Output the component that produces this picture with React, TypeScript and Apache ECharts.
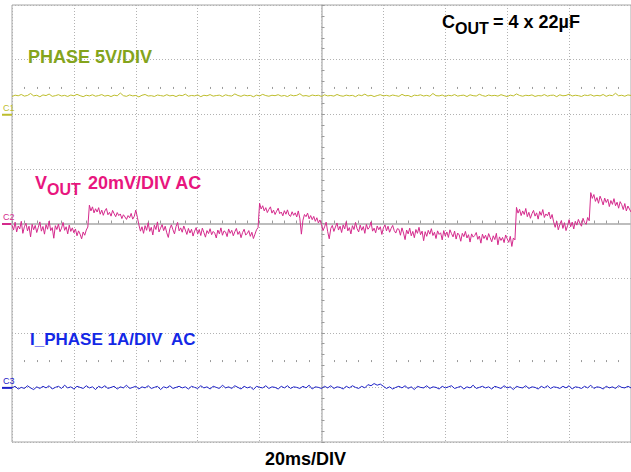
import { useEffect, useRef } from "react";
import * as echarts from "echarts";

// Horizontal: 20 ms/div, 10 divisions, centred on 0 ms
const TIME_START_MS = -100;
const TIME_END_MS = 100;
const TIME_DIV_MS = 20;
const STEP_MS_SLOW = 1; // CH1 / CH3 record spacing
const STEP_MS_VOUT = 0.5; // CH2 record spacing

// Vertical: 8 divisions
const DIV_MIN = -4;
const DIV_MAX = 4;

// Channel settings: scale per division and ground position (in divisions)
const CH1_SCALE_V = 5;
const CH1_GROUND_DIV = 2;
const CH2_SCALE_MV = 20;
const CH2_GROUND_DIV = 0;
const CH3_SCALE_A = 1;
const CH3_GROUND_DIV = -3;

const CH_LABELS = ["C1", "C2", "C3"];

// CH1: PHASE node (V), one sample per ms
const PHASE_V: number[] = [
  1.62, 1.75, 1.69, 1.81, 1.66, 1.72, 1.90, 1.68, 1.74, 1.60,
  1.77, 1.71, 1.85, 1.64, 1.70, 1.79, 1.67, 1.73, 1.63, 1.76,
  1.69, 1.82, 1.70, 1.61, 1.74, 1.68, 1.78, 1.65, 1.71, 1.80,
  1.66, 1.73, 1.62, 1.75, 1.69, 1.94, 1.70, 1.64, 1.77, 1.68,
  1.72, 1.59, 1.74, 1.81, 1.67, 1.70, 1.63, 1.76, 1.71, 1.66,
  1.79, 1.68, 1.73, 1.62, 1.75, 1.70, 1.84, 1.65, 1.72, 1.68,
  1.77, 1.61, 1.74, 1.69, 1.80, 1.66, 1.71, 1.75, 1.63, 1.78,
  1.70, 1.67, 1.86, 1.72, 1.64, 1.76, 1.69, 1.73, 1.60, 1.75,
  1.68, 1.82, 1.71, 1.65, 1.74, 1.70, 1.79, 1.66, 1.72, 1.62,
  1.77, 1.69, 1.73, 1.88, 1.67, 1.71, 1.64, 1.76, 1.70, 1.74,
  1.63, 1.78, 1.68, 1.72, 1.66, 1.81, 1.70, 1.65, 1.75, 1.69,
  1.73, 1.61, 1.77, 1.70, 1.84, 1.67, 1.74, 1.62, 1.71, 1.79,
  1.68, 1.73, 1.66, 1.76, 1.70, 1.64, 1.82, 1.69, 1.72, 1.60,
  1.75, 1.71, 1.78, 1.67, 1.73, 1.65, 1.90, 1.70, 1.68, 1.76,
  1.63, 1.74, 1.69, 1.80, 1.66, 1.72, 1.75, 1.62, 1.78, 1.70,
  1.67, 1.83, 1.71, 1.64, 1.76, 1.69, 1.73, 1.66, 1.79, 1.70,
  1.62, 1.75, 1.68, 1.86, 1.72, 1.65, 1.74, 1.70, 1.77, 1.63,
  1.71, 1.68, 1.80, 1.66, 1.73, 1.75, 1.61, 1.78, 1.69, 1.72,
  1.84, 1.67, 1.74, 1.70, 1.63, 1.76, 1.71, 1.79, 1.66, 1.73,
  1.68, 1.81, 1.64, 1.75, 1.70, 1.92, 1.69, 1.74, 1.65, 1.77,
  1.72,
];

// CH2: VOUT ripple, AC coupled (mV), one sample per 0.5 ms
const VOUT_MV: number[] = [
  -0.6, -2.4, 0.5, -3.1, -0.9, -2.0, 0.8, -3.6, -1.2, 0.1,
  -2.7, -1.0, -4.9, -0.3, -2.3, -0.7, -3.3, -1.4, 0.6, -2.8,
  -1.1, -3.9, -0.4, -2.1, 0.9, -2.6, -1.5, -5.4, -0.8, -2.2,
  -0.2, -3.0, -1.7, 0.4, -2.5, -1.2, -3.8, -0.6, -2.9, -1.6,
  -3.4, -2.0, -4.5, -2.7, -3.9, -5.6, -3.1, -4.3, -2.4, -1.3,
  6.7, 4.6, 6.1, 3.9, 5.4, 4.2, 5.8, 3.4, 4.9, 3.0,
  4.6, 5.5, 3.2, 4.1, 2.7, 4.8, 3.6, 2.5, 4.0, 2.9,
  3.5, 1.8, 3.2, 2.4, 1.5, 2.9, 2.1, 3.7, 1.6, 2.6,
  4.9, 2.3, -0.5, -2.8,
  -1.2, -3.6, -0.8, -2.5, 0.3, -2.9, -1.4, -4.2, -0.6, -2.2,
  0.6, -3.1, -1.7, -0.4, -2.6, -1.0, -3.4, -5.1, -1.9, -0.5,
  -2.3, -3.8, -1.1, 0.4, -2.7, -1.6, -3.2, -0.9, -2.4, -4.0,
  -1.8, -3.5, -2.1, -4.6, -2.8, -1.5, -3.9, -2.2, -4.4, -1.7,
  -3.3, -5.0, -2.6, -3.7, -1.9, -4.1, -2.9, -3.5, -5.3, -2.4,
  -3.8, -1.6, -4.3, -2.7, -3.1, -4.8, -2.0, -3.6, -2.5, -4.5,
  -3.0, -1.8, -4.0, -2.9, -5.2, -3.3, -2.1, -4.2, -3.7, -2.6,
  -4.7, -3.2, -5.5, -3.9, -2.3, -1.5,
  7.4, 5.3, 6.5, 4.6, 5.8, 4.0, 5.2, 6.1, 3.8, 4.9,
  3.3, 4.5, 5.6, 3.6, 4.2, 2.8, 4.7, 3.4, 5.0, 3.1,
  2.6, 4.3, 3.0, 3.9, 2.4, 4.6, 1.9, -3.9, 1.2, 3.3,
  2.5, 3.8, 1.7, 2.9, 1.4, 2.6, 0.8, 2.1, 0.2, 1.3,
  -0.4, -2.6, -1.2, 0.5, -3.0, -5.6, -1.8, -0.7, -2.9, -1.3,
  0.2, -2.4, -1.0, -3.3, -0.5, -2.0, 0.7, -2.7, -1.5, -3.8,
  -0.8, -2.2, 0.4, -1.9, -3.1, -0.6, -2.5, -1.1, -3.6, -0.3,
  -2.1, -1.4, 0.6, -2.8, -1.7, -3.4, -0.9, -2.3, -1.2, -4.0,
  -1.6, -0.5, -2.7, -1.0, -3.2, -1.8, -0.7, -2.6, -3.5, -1.9,
  -2.1, -4.3, -1.6, -3.5, -5.9, -2.4, -3.8, -1.7, -4.5, -2.9,
  -5.2, -2.2, -3.6, -1.4, -4.1, -2.8, -6.3, -3.0, -4.7, -2.5,
  -3.9, -1.9, -4.4, -3.2, -5.5, -2.7, -4.0, -3.4, -6.0, -2.6,
  -4.6, -3.1, -5.1, -2.3, -3.7, -4.9, -2.8, -5.7, -3.5, -4.2,
  -6.5, -3.6, -4.8, -2.9, -5.3, -4.1, -6.8, -3.8, -5.0, -4.4,
  -3.3, -5.8, -4.6, -7.2, -3.9, -5.5, -4.3, -6.1, -3.7, -5.2,
  -6.7, -4.5, -5.9, -3.6, -7.8, -4.9, -6.2, -5.1, -7.0, -4.2,
  -5.6, -6.9, -4.7, -8.4, -5.3, -6.0,
  5.9, 3.8, 5.2, 2.9, 4.6, 3.3, 5.5, 2.5, 4.1, 1.9,
  3.6, 4.8, 2.7, 3.9, 1.6, 4.4, 3.0, 5.1, 2.2, 3.5,
  2.8, 4.2, 1.7, 3.3, 0.6, -1.4, 0.9, -2.3, -0.4, 1.1,
  -1.8, 0.3, -2.6, -0.8, 1.4, -1.2, 0.5, -2.0,
  0.8, -0.6, 1.5, 0.1, -1.0, 1.9, 0.4, -0.3, 2.2, 1.0,
  11.3, 9.2, 10.6, 8.1, 9.5, 7.4, 10.0, 8.6, 6.8, 9.3,
  7.7, 8.9, 6.2, 8.4, 7.0, 9.1, 6.5, 7.8, 5.6, 8.0,
  6.9, 5.1, 7.3, 4.6, 6.4, 5.3, 4.2,
];

// CH3: phase current, AC coupled (A), one sample per ms
const IPHASE_A: number[] = [
  -0.01, 0.02, -0.03, 0.00, -0.02, 0.03, -0.01, -0.04, 0.01, -0.02,
  0.02, -0.01, 0.03, -0.03, 0.00, 0.02, -0.02, 0.04, -0.01, 0.01,
  -0.03, 0.02, 0.00, -0.02, 0.03, -0.01, 0.01, -0.04, 0.02, -0.01,
  0.03, -0.02, 0.00, 0.02, -0.03, 0.01, -0.01, 0.04, -0.02, 0.00,
  0.02, -0.03, 0.01, -0.01, 0.03, -0.02, 0.00, 0.02, -0.04, 0.01,
  -0.01, 0.03, -0.02, 0.00, 0.02, -0.01, 0.01, -0.03, 0.02, 0.00,
  -0.02, 0.03, -0.01, 0.01, -0.03, 0.02, 0.00, -0.02, 0.04, -0.01,
  0.01, -0.02, 0.03, 0.00, -0.03, 0.02, -0.01, 0.01, -0.04, 0.02,
  0.00, -0.01, 0.03, -0.02, 0.01, 0.00, -0.03, 0.02, -0.01, 0.03,
  -0.02, 0.01, 0.00, -0.02, 0.02, -0.01, 0.04, -0.03, 0.01, 0.00,
  -0.02, 0.02, -0.01, 0.03, -0.02, 0.01, 0.00, -0.03, 0.02, -0.01,
  0.03, 0.00, -0.02, 0.02, -0.01, 0.05, 0.03, 0.07, 0.04, 0.06,
  0.02, -0.02, 0.01, -0.03, 0.00, 0.02, -0.01, 0.03, -0.02, 0.01,
  -0.04, 0.02, 0.00, -0.01, 0.03, -0.02, 0.01, 0.00, -0.03, 0.02,
  -0.01, 0.01, 0.03, -0.02, 0.00, 0.02, -0.03, 0.01, -0.01, 0.04,
  -0.02, 0.00, 0.02, -0.01, 0.01, -0.03, 0.02, 0.00, -0.02, 0.03,
  -0.01, 0.01, -0.04, 0.02, 0.00, -0.01, 0.03, -0.02, 0.01, 0.00,
  -0.03, 0.02, -0.01, 0.03, -0.02, 0.01, 0.00, -0.02, 0.02, -0.01,
  0.03, -0.03, 0.01, 0.00, -0.02, 0.02, -0.01, 0.04, -0.02, 0.01,
  0.00, -0.03, 0.02, -0.01, 0.01, -0.02, 0.03, 0.00, -0.01, 0.02,
  -0.01,
];

const COL_CH1 = "#bdbd2c";
const COL_CH1_TEXT = "#84a41c";
const COL_CH2 = "#d42a8c";
const COL_CH2_TEXT = "#e8167e";
const COL_CH3 = "#1e22c8";
const COL_CH3_TEXT = "#1428e6";
const FONT = "'Liberation Sans', Arial, Helvetica, sans-serif";

function toTrace(vals: number[], stepMs: number, scale: number, groundDiv: number): number[][] {
  return vals.map((v, i) => [TIME_START_MS + i * stepMs, groundDiv + v / scale]);
}

function txt(text: string, x: number, y: number, size: number, color: string) {
  return {
    type: "text",
    x,
    y,
    silent: true,
    style: {
      text,
      fill: color,
      font: `bold ${size}px ${FONT}`,
      textAlign: "left",
      textVerticalAlign: "middle",
    },
  };
}

export default function App() {
  const ref = useRef<HTMLDivElement>(null);

  useEffect(() => {
    if (!ref.current) return;
    const chart = echarts.init(ref.current, null, { renderer: "svg" });

    const dotted = { show: true, lineStyle: { color: "#b2b2b2", type: [1, 2], width: 1 } };
    const tickStyle = { color: "#9a9a9a", width: 1 };

    const markerAxis = (idx: number) => ({
      type: "value",
      min: TIME_START_MS,
      max: TIME_END_MS,
      interval: TIME_DIV_MS,
      axisLabel: { show: false },
      splitLine: { show: false },
      axisLine: { show: true, onZero: true, onZeroAxisIndex: idx, lineStyle: { opacity: 0 } },
      axisTick: { show: false, inside: true },
      minorTick: { show: true, splitNumber: 5, length: 2, lineStyle: tickStyle },
    });

    chart.setOption({
      animation: false,
      backgroundColor: "#ffffff",
      grid: {
        left: 12,
        right: -1,
        top: 5,
        bottom: 30,
        show: true,
        borderColor: "#a6a6a6",
        borderWidth: 1,
        backgroundColor: "transparent",
      },
      xAxis: [
        {
          type: "value",
          min: TIME_START_MS,
          max: TIME_END_MS,
          interval: TIME_DIV_MS,
          axisLabel: { show: false },
          splitLine: dotted,
          axisLine: { show: true, onZero: true, lineStyle: { color: "#bdbdbd", width: 2 } },
          axisTick: { show: true, inside: true, length: 3, lineStyle: tickStyle },
          minorTick: { show: true, splitNumber: 5, length: 3, lineStyle: tickStyle },
        },
        markerAxis(1),
        markerAxis(2),
      ],
      yAxis: [
        {
          type: "value",
          min: DIV_MIN,
          max: DIV_MAX,
          interval: 1,
          axisLabel: { show: false },
          splitLine: dotted,
          axisLine: { show: true, onZero: true, lineStyle: { color: "#bdbdbd", width: 1.5 } },
          axisTick: { show: true, inside: true, length: 3, lineStyle: tickStyle },
          minorTick: { show: true, splitNumber: 5, length: 3, lineStyle: tickStyle },
        },
        { type: "value", show: false, min: -1.5, max: 6.5 },
        { type: "value", show: false, min: -6.5, max: 1.5 },
      ],
      series: [
        {
          name: "PHASE",
          type: "line",
          showSymbol: false,
          silent: true,
          data: toTrace(PHASE_V, STEP_MS_SLOW, CH1_SCALE_V, CH1_GROUND_DIV),
          lineStyle: { color: COL_CH1, width: 1 },
        },
        {
          name: "VOUT",
          type: "line",
          showSymbol: false,
          silent: true,
          data: toTrace(VOUT_MV, STEP_MS_VOUT, CH2_SCALE_MV, CH2_GROUND_DIV),
          lineStyle: { color: COL_CH2, width: 1 },
        },
        {
          name: "I_PHASE",
          type: "line",
          showSymbol: false,
          silent: true,
          data: toTrace(IPHASE_A, STEP_MS_SLOW, CH3_SCALE_A, CH3_GROUND_DIV),
          lineStyle: { color: COL_CH3, width: 1 },
        },
      ],
    });

    // channel ground markers at the left edge
    const grounds = [CH1_GROUND_DIV, CH2_GROUND_DIV, CH3_GROUND_DIV];
    const cols = [COL_CH1, COL_CH2, COL_CH3];
    const markers: any[] = [];
    grounds.forEach((g, i) => {
      const p = chart.convertToPixel({ gridIndex: 0 }, [TIME_START_MS, g]) as number[];
      const gy = p[1];
      markers.push({
        type: "rect",
        silent: true,
        shape: { x: 2, y: gy - 0.5, width: 10, height: 2 },
        style: { fill: cols[i] },
      });
      markers.push({
        type: "text",
        x: 3,
        y: gy - 2,
        silent: true,
        style: {
          text: CH_LABELS[i],
          fill: cols[i],
          font: `9px ${FONT}`,
          textAlign: "left",
          textVerticalAlign: "bottom",
        },
      });
    });

    chart.setOption({
      graphic: [
        ...markers,
        txt("PHASE 5V/DIV", 28, 57, 18, COL_CH1_TEXT),
        txt("C", 442, 22, 18, "#000000"),
        txt("OUT", 455, 28, 16, "#000000"),
        txt("= 4 x 22µF", 493, 22, 18, "#000000"),
        txt("V", 35, 183, 18, COL_CH2_TEXT),
        txt("OUT", 47, 189, 16, COL_CH2_TEXT),
        txt("20mV/DIV AC", 88, 183, 18, COL_CH2_TEXT),
        txt("I_PHASE 1A/DIV  AC", 30, 339, 17, COL_CH3_TEXT),
        txt("20ms/DIV", 265, 459, 18, "#000000"),
      ],
    });

    return () => chart.dispose();
  }, []);

  return (
    <div
      ref={ref}
      style={{ position: "absolute", left: 0, top: 0, width: 631, height: 472, background: "#fff" }}
    />
  );
}
